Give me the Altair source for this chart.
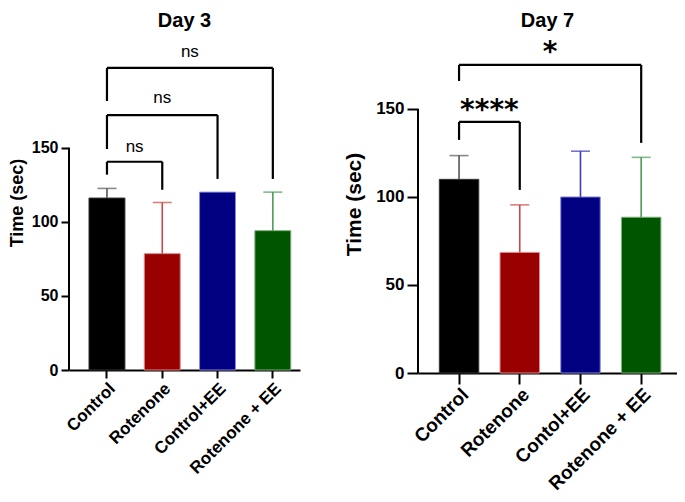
import altair as alt
import pandas as pd

# ---------------- data ----------------
groups3 = ["Control", "Rotenone", "Control+EE", "Rotenone + EE"]
groups7 = ["Control", "Rotenone", "Contol+EE", "Rotenone + EE"]
means3 = [116, 78.5, 120, 94]
upper3 = [122.5, 113, 120, 120]
means7 = [110, 68.5, 100, 88.5]
upper7 = [123.5, 95.5, 126, 122.5]
bar_colors = ["#000000", "#990000", "#000080", "#005500"]
edge_colors = ["#333333", "#e08a8a", "#8a8ad8", "#7fb07f"]
err_colors = ["#555555", "#c84848", "#3a3ab8", "#4e9a58"]

# significance brackets
br3_from = [0, 0, 0]
br3_to = [1, 2, 3]
br3_y = [140.5, 172, 203.8]
br3_left = [131.8, 149.1, 181.5]
br3_right = [121.6, 128.9, 128.9]
br3_text = ["ns", "ns", "ns"]
br3_ty = [147.3, 180, 211.4]

br7_from = [0, 0]
br7_to = [1, 3]
br7_y = [142.6, 175]
br7_left = [132.4, 165.9]
br7_right = [104, 130.7]
br7_text = ["****", "*"]
br7_ty = [144.5, 177]

FONT = "Liberation Sans"


def panel(title, groups, means, upper, bfrom, bto, by, bl, br, btext, bty,
          width, height, ymax, po, align, xlab, xtick, xpad, ylab, ytitle, ytick, tpad,
          txt_font, txt_size, txt_weight):
    n = len(groups)
    pin = 0.35
    step = width / (n - pin + 2 * po)
    df = pd.DataFrame({"g": groups, "mean": means, "upper": upper,
                       "color": bar_colors, "edge": edge_colors, "err": err_colors})
    xs = alt.Scale(domain=groups, paddingInner=pin, paddingOuter=po, align=align, round=False)
    ys = alt.Scale(domain=[0, ymax], nice=False, zero=True)
    xaxis = alt.Axis(title=None, labelAngle=-45, labelFontSize=xlab, labelFontWeight="bold",
                     labelColor="black", labelFont=FONT, tickSize=xtick, tickWidth=2,
                     tickColor="black", domainWidth=2, domainColor="black", labelPadding=xpad,
                     grid=False)
    yaxis = alt.Axis(title="Time (sec)", values=[0, 50, 100, 150], domain=False, grid=False,
                     tickSize=ytick, tickWidth=2, tickColor="black", labelFontSize=ylab,
                     labelFontWeight="bold", labelColor="black", labelFont=FONT,
                     labelPadding=3, titleFontSize=ytitle, titleFontWeight="bold",
                     titleFont=FONT, titleColor="black", titlePadding=tpad)

    def X(f):
        return alt.X(f, scale=xs, sort=groups, axis=xaxis)

    def Y(f):
        return alt.Y(f, scale=ys, axis=yaxis)

    base = alt.Chart(df)
    bars = base.mark_bar(strokeWidth=1).encode(
        x=X("g:N"), y=Y("mean:Q"),
        color=alt.Color("color:N", scale=None),
        stroke=alt.Stroke("edge:N", scale=None))
    err = base.transform_filter("datum.upper > datum.mean").mark_rule(strokeWidth=1.6).encode(
        x=X("g:N"), y=Y("mean:Q"), y2="upper:Q",
        color=alt.Color("err:N", scale=None))
    caps = base.transform_filter("datum.upper > datum.mean").mark_tick(
        orient="horizontal", size=19, thickness=1.6).encode(
        x=X("g:N"), y=Y("upper:Q"),
        color=alt.Color("err:N", scale=None))

    # y axis line from 0 to 150
    axdf = pd.DataFrame({"lo": [0], "hi": [150]})
    yline = alt.Chart(axdf).mark_rule(color="black", strokeWidth=2).encode(
        x=alt.value(0), y=Y("lo:Q"), y2="hi:Q")

    # bracket horizontals
    hdf = pd.DataFrame({"a": [groups[i] for i in bfrom], "b": [groups[j] for j in bto], "y": by})
    hor = alt.Chart(hdf).mark_rule(color="black", strokeWidth=2.2).encode(
        x=alt.X("a:N", scale=xs, sort=groups, axis=xaxis, bandPosition=0.5),
        x2="b:N", y=Y("y:Q"))
    legs_g, legs_lo, legs_hi = [], [], []
    for i, j, yy, l, r in zip(bfrom, bto, by, bl, br):
        legs_g += [groups[i], groups[j]]
        legs_lo += [l, r]
        legs_hi += [yy, yy]
    ldf = pd.DataFrame({"g": legs_g, "lo": legs_lo, "hi": legs_hi})
    legs = alt.Chart(ldf).mark_rule(color="black", strokeWidth=2.2).encode(
        x=X("g:N"), y=Y("lo:Q"), y2="hi:Q")

    layers = [bars, err, caps, yline, hor, legs]
    for i, j, t, ty in zip(bfrom, bto, btext, bty):
        tdf = pd.DataFrame({"g": [groups[i]], "t": [t], "ty": [ty]})
        layers.append(alt.Chart(tdf).mark_text(
            font=txt_font, fontSize=txt_size[t], fontWeight=txt_weight[t], color="black",
            baseline="alphabetic", align="center", dx=(j - i) / 2 * step).encode(
            x=X("g:N"), y=Y("ty:Q"), text="t:N"))

    return alt.layer(*layers).properties(
        width=width, height=height,
        title=alt.TitleParams(title, fontSize=20, fontWeight="bold", font=FONT,
                              color="black", anchor="middle", offset=4))


left = panel("Day 3", groups3, means3, upper3, br3_from, br3_to, br3_y, br3_left, br3_right,
             br3_text, br3_ty, width=231, height=335, ymax=226, po=0.264, align=0.685,
             xlab=17, xtick=8, xpad=2, ylab=16, ytitle=18, ytick=8, tpad=5,
             txt_font=FONT, txt_size={"ns": 17}, txt_weight={"ns": "normal"})
right = panel("Day 7", groups7, means7, upper7, br7_from, br7_to, br7_y, br7_left, br7_right,
              br7_text, br7_ty, width=259, height=338, ymax=192, po=0.308, align=0.57,
              xlab=19, xtick=11, xpad=1, ylab=17, ytitle=21, ytick=11, tpad=11,
              txt_font="DejaVu Sans", txt_size={"****": 28, "*": 28},
              txt_weight={"****": "bold", "*": "bold"})

chart = alt.hconcat(left, right, spacing=43,
                    padding={"top": 3, "left": 0, "right": 0, "bottom": 0}).configure_view(stroke=None)

chart.save("out.html", embed_options={"renderer": "svg", "actions": False})
